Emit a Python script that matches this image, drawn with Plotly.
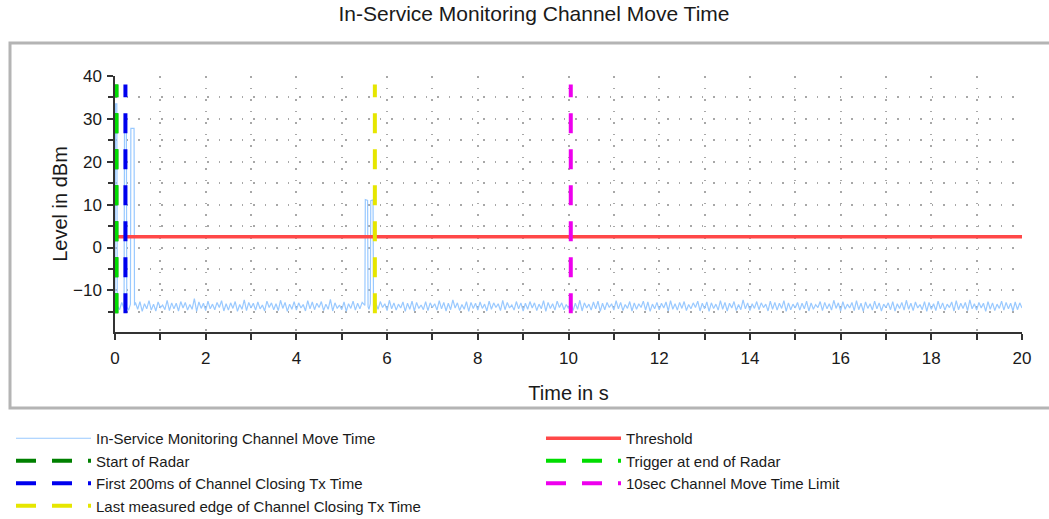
import numpy as np
import plotly.graph_objects as go

# ---------------- data ----------------
title_text = "In-Service Monitoring Channel Move Time"

# background level samples every 0.05 s from 0 to 20 s (dBm)
noise_levels = [
    -14.2,-12.9,-14.6,-13.0,-14.8,-12.5,-14.1,-13.3,-14.7,-12.8,-14.4,-12.6,-14.9,-13.1,-14.3,-12.4,-14.6,-13.2,-14.8,-12.7,
    -14.0,-13.4,-14.5,-12.3,-14.7,-12.9,-14.3,-13.0,-14.8,-12.6,-14.1,-12.8,-14.6,-13.3,-14.4,-11.9,-14.9,-12.7,-14.2,-13.0,
    -14.7,-12.5,-14.3,-13.2,-14.5,-12.8,-14.0,-12.4,-14.8,-13.1,-14.6,-12.9,-14.2,-12.6,-14.9,-13.3,-14.4,-12.2,-14.7,-12.8,
    -14.1,-13.0,-14.6,-12.7,-14.3,-13.4,-14.8,-12.5,-14.0,-12.9,-14.5,-13.1,-14.7,-12.3,-14.2,-12.8,-14.9,-13.2,-14.4,-12.6,
    -14.6,-12.9,-14.1,-13.3,-14.8,-12.4,-14.3,-12.7,-14.5,-13.0,-14.0,-12.6,-14.7,-13.2,-14.4,-12.1,-14.8,-12.9,-14.2,-13.4,
    -14.5,-12.7,-14.9,-13.1,-14.2,-12.5,-14.6,-13.0,-14.3,-12.8,-14.7,-12.4,-14.1,-13.3,-14.8,-12.9,-14.4,-12.6,-14.0,-13.1,
    -14.7,-12.3,-14.3,-12.9,-14.6,-13.2,-14.1,-12.7,-14.9,-13.0,-14.4,-12.5,-14.8,-12.8,-14.2,-13.4,-14.5,-12.6,-14.7,-12.9,
    -14.0,-13.1,-14.6,-12.4,-14.3,-12.8,-14.8,-13.0,-14.5,-12.2,-14.1,-12.9,-14.7,-13.3,-14.4,-12.6,-14.9,-12.8,-14.2,-13.0,
    -14.6,-12.7,-14.2,-13.2,-14.8,-12.5,-14.4,-12.9,-14.0,-13.1,-14.7,-12.3,-14.5,-12.8,-14.1,-13.4,-14.6,-12.6,-14.3,-12.9,
    -14.8,-13.0,-14.4,-12.6,-14.1,-12.9,-14.7,-13.2,-14.3,-12.4,-14.9,-12.8,-14.2,-13.1,-14.6,-12.5,-14.0,-12.9,-14.5,-13.3,
    -14.2,-12.6,-14.7,-13.0,-14.4,-12.3,-14.8,-12.9,-14.1,-13.2,-14.6,-12.7,-14.3,-12.5,-14.9,-13.0,-14.5,-12.8,-14.0,-13.1,
    -14.6,-12.4,-14.3,-12.8,-14.7,-13.3,-14.2,-12.6,-14.8,-12.9,-14.4,-13.1,-14.0,-12.5,-14.6,-12.7,-14.9,-13.2,-14.3,-12.8,
    -14.5,-13.0,-14.1,-12.7,-14.8,-12.4,-14.4,-13.1,-14.6,-12.8,-14.2,-12.6,-14.7,-13.3,-14.3,-12.9,-14.0,-12.5,-14.8,-13.0,
    -14.3,-12.7,-14.9,-12.9,-14.2,-13.2,-14.6,-12.4,-14.4,-12.8,-14.8,-13.0,-14.1,-12.6,-14.7,-13.3,-14.5,-12.2,-14.3,-12.9,
    -14.7,-13.1,-14.2,-12.6,-14.5,-12.9,-14.0,-13.2,-14.8,-12.5,-14.4,-12.8,-14.6,-13.0,-14.2,-12.4,-14.9,-12.9,-14.5,-13.2,
    -14.1,-12.8,-14.6,-13.0,-14.3,-12.5,-14.8,-12.9,-14.4,-13.3,-14.0,-12.6,-14.7,-12.8,-14.3,-13.1,-14.6,-12.3,-14.2,-12.9,
    -14.8,-12.6,-14.4,-13.2,-14.1,-12.8,-14.7,-12.4,-14.5,-13.0,-14.9,-12.7,-14.2,-13.1,-14.6,-12.5,-14.3,-12.9,-14.8,-13.2,
    -14.0,-12.9,-14.5,-12.6,-14.8,-13.1,-14.2,-12.8,-14.6,-12.3,-14.4,-13.0,-14.7,-12.7,-14.1,-13.3,-14.5,-12.6,-14.9,-12.8,
    -14.4,-13.1,-14.7,-12.5,-14.3,-12.9,-14.6,-13.2,-14.0,-12.7,-14.8,-12.4,-14.5,-13.0,-14.2,-12.8,-14.7,-12.2,-14.3,-13.1,
    -14.6,-12.8,-14.1,-13.0,-14.9,-12.6,-14.4,-12.9,-14.7,-13.2,-14.2,-12.5,-14.6,-12.8,-14.3,-13.0,-14.8,-12.7,-14.5,-12.9,
    -14.1,
]
noise_step = 0.05

# radar burst / closing transmission pulses at the start (s, dBm)
start_times = [0.00, 0.01, 0.04, 0.05, 0.10, 0.15, 0.20, 0.21, 0.25, 0.26, 0.30, 0.34, 0.35, 0.42, 0.43]
start_levels = [-14.0, 33.5, 33.5, -13.6, -14.5, -12.8, -14.2, 30.0, 30.0, -13.9, -14.6, -13.2, 27.8, 27.8, -13.5]

# last closing transmission pulses (s, dBm)
late_times = [5.51, 5.52, 5.57, 5.58, 5.60, 5.63, 5.64, 5.69, 5.70]
late_levels = [-13.5, 11.2, 11.0, -13.8, -14.4, -13.1, 10.9, 11.1, -13.6]

threshold_dbm = 2.5

marker_names = [
    "Start of Radar",
    "Trigger at end of Radar",
    "First 200ms of Channel Closing Tx Time",
    "10sec Channel Move Time Limit",
    "Last measured edge of Channel Closing Tx Time",
]
marker_times = [0.03, 0.03, 0.23, 10.05, 5.73]
marker_colors = ["#008000", "#00dd00", "#0000ee", "#ee00ee", "#e6e600"]
marker_legend = ["legend", "legend2", "legend", "legend2", "legend"]
marker_low, marker_high = -15.3, 38.0

x_tickvals = list(range(0, 21))
x_ticktext = [str(v) if v % 2 == 0 else "" for v in x_tickvals]
y_tickvals = [-10, 0, 10, 20, 30, 40]
y_minorvals = [-15, -5, 5, 15, 25, 35]

# ---------------- build series ----------------
noise_t = np.round(np.arange(len(noise_levels)) * noise_step, 3)
noise_v = np.array(noise_levels)
keep = (noise_t >= 0.45) & ~((noise_t >= 5.50) & (noise_t <= 5.70))
all_t = np.concatenate([np.array(start_times), noise_t[keep], np.array(late_times)])
all_v = np.concatenate([np.array(start_levels), noise_v[keep], np.array(late_levels)])
order = np.argsort(all_t, kind="stable")
all_t, all_v = all_t[order], all_v[order]

FONT = "Liberation Sans, Arial, sans-serif"
TXT = "#1a1a1a"

fig = go.Figure()
fig.add_trace(go.Scatter(
    x=all_t, y=all_v, mode="lines", name="In-Service Monitoring Channel Move Time",
    line=dict(color="#99c9ff", width=1.2), legend="legend",
))
fig.add_trace(go.Scatter(
    x=[0, 20], y=[threshold_dbm, threshold_dbm], mode="lines", name="Threshold",
    line=dict(color="#ff4848", width=3.5), legend="legend2",
))
for name, t, c, lg in zip(marker_names, marker_times, marker_colors, marker_legend):
    fig.add_trace(go.Scatter(
        x=[t, t], y=[marker_low, marker_high], mode="lines", name=name,
        line=dict(color=c, width=4, dash="20px,16px"), legend=lg,
    ))

# plot area geometry (pixels)
L, R, T, B = 115, 27, 76, 187
W, H = 1049, 519
pw, ph = W - L - R, H - T - B


def px_x(p):
    return (p - L) / pw


def px_y(p):
    return (H - B - p) / ph


fig.add_shape(type="rect", xref="paper", yref="paper",
              x0=px_x(10), x1=px_x(1056), y0=px_y(408), y1=px_y(43),
              line=dict(color="#b4b4b4", width=3), layer="below")

IW = 75
leg_common = dict(orientation="v", xanchor="left", yanchor="top", itemwidth=IW,
                  font=dict(size=15, color=TXT), bgcolor="rgba(0,0,0,0)",
                  tracegroupgap=0, traceorder="normal", borderwidth=0)

fig.update_layout(
    width=W, height=H,
    margin=dict(l=L, r=R, t=T, b=B, autoexpand=False),
    paper_bgcolor="white", plot_bgcolor="white",
    font=dict(family=FONT, size=16, color=TXT),
    title=dict(text=title_text, x=534 / W, xref="container", xanchor="center",
               y=1 - 14 / H, yref="container", yanchor="middle",
               font=dict(size=21, color=TXT)),
    showlegend=True,
    legend=dict(x=px_x(97 - IW - 11), y=px_y(422), **leg_common),
    legend2=dict(x=px_x(627 - IW - 11), y=px_y(422), **leg_common),
    xaxis=dict(range=[0, 20], tickvals=x_tickvals, ticktext=x_ticktext,
               ticks="outside", ticklen=6, tickwidth=1.5, tickcolor="#333",
               showline=True, linecolor="#333", linewidth=1.5,
               showgrid=True, gridcolor="#a8a8a8", gridwidth=1.5, griddash="1.5px,10px",
               zeroline=False, ticklabelstandoff=4,
               tickfont=dict(size=17, color=TXT),
               title=dict(text="Time in s", font=dict(size=20, color=TXT), standoff=19)),
    yaxis=dict(range=[-19.7, 40], tickvals=y_tickvals,
               ticks="outside", ticklen=6, tickwidth=1.5, tickcolor="#333",
               showline=True, linecolor="#333", linewidth=1.5,
               showgrid=True, gridcolor="#a8a8a8", gridwidth=1.5, griddash="1.5px,10px",
               zeroline=False, ticklabelstandoff=2,
               minor=dict(tickvals=y_minorvals, ticks="outside", ticklen=5, tickcolor="#333",
                          showgrid=True, gridcolor="#a8a8a8", gridwidth=1.5, griddash="1.5px,10px"),
               tickfont=dict(size=17, color=TXT),
               title=dict(text="Level in dBm", font=dict(size=20, color=TXT), standoff=0)),
)

fig.write_html("out.html", config={"displayModeBar": False},
               post_script="document.body.style.margin='0px';document.body.style.padding='0px';")
